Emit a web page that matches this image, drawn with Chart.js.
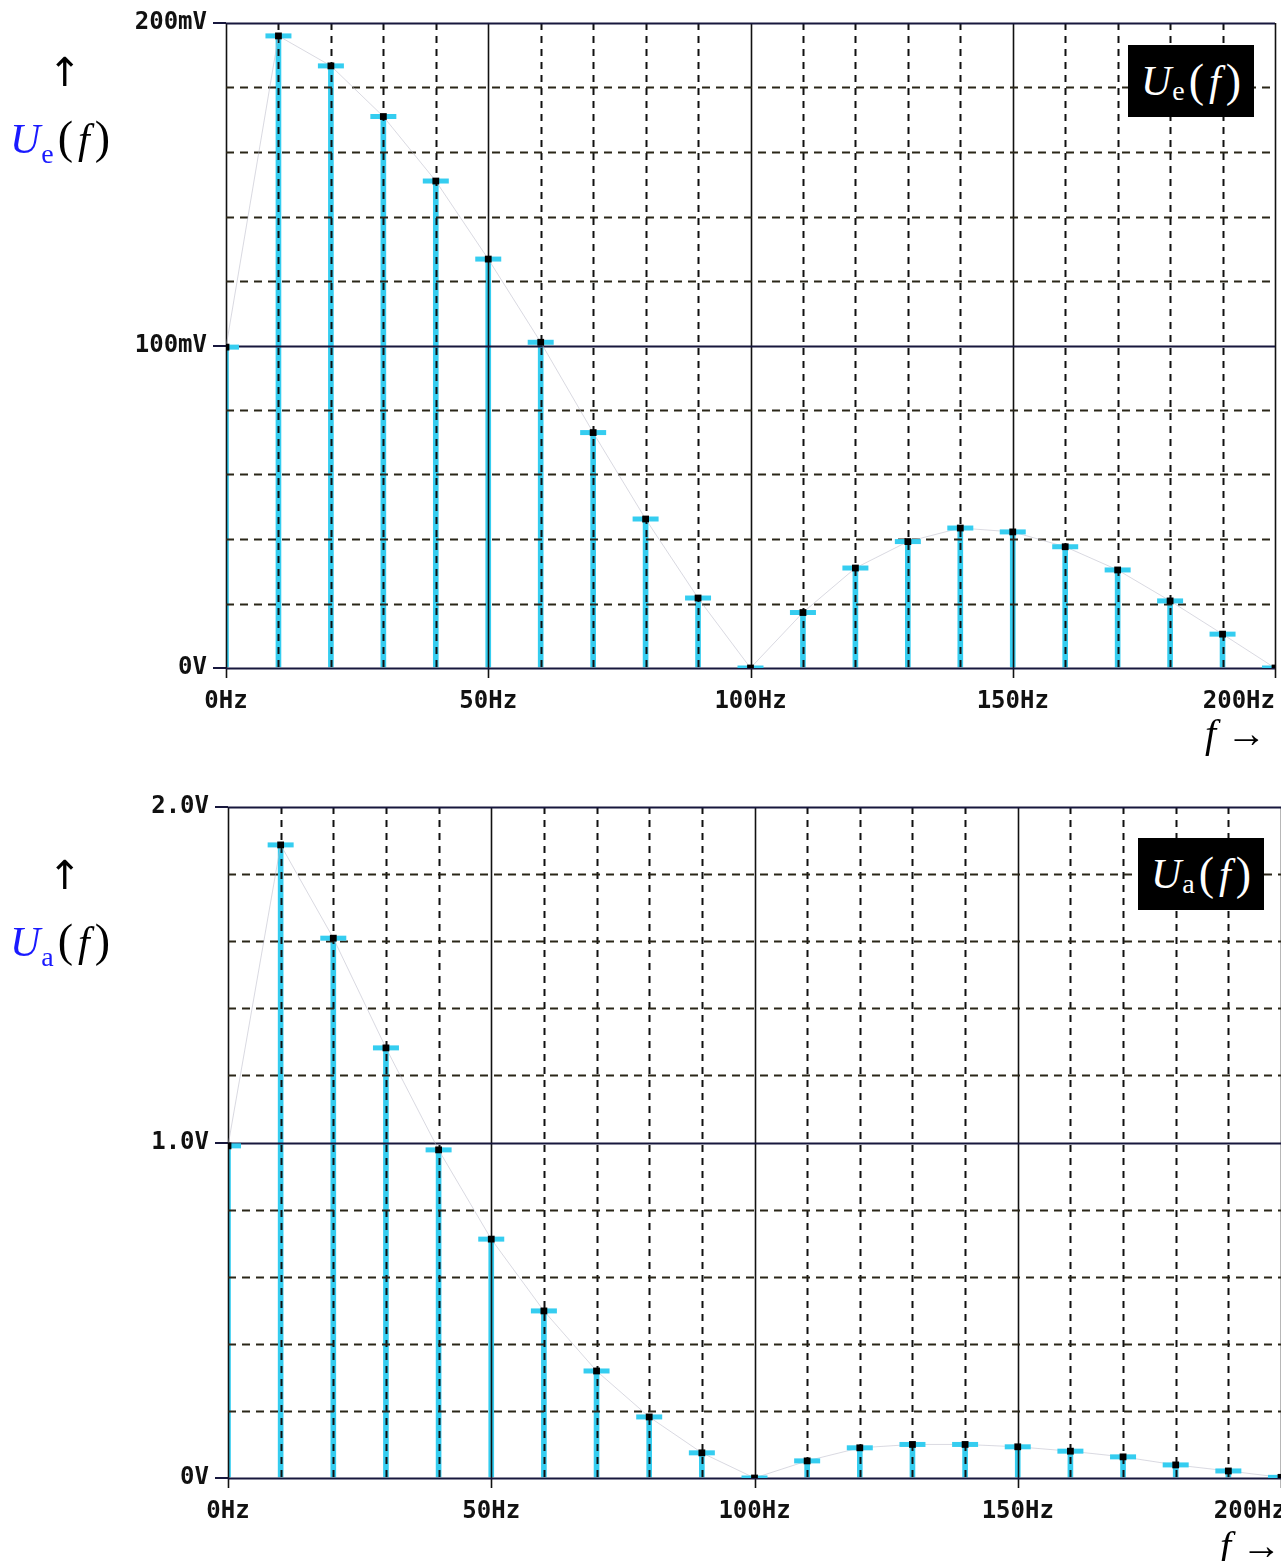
<!DOCTYPE html>
<html>
<head>
<meta charset="utf-8">
<script src="https://cdn.jsdelivr.net/npm/chart.js@4.4.1/dist/chart.umd.min.js"></script>
<style>
  body { margin: 0; background: #fff; }
  #page { position: relative; width: 1281px; height: 1561px; overflow: hidden; }
  .cv { position: absolute; left: 0; }
  .lbl { position: absolute; font-family: "Liberation Serif", "DejaVu Serif", serif; font-size: 42px; line-height: 1; white-space: nowrap; color: #000; }
  .lbl .u { color: #1a1aff; font-style: italic; }
  .lbl .s { color: #1a1aff; font-size: 28px; position: relative; top: 10px; margin-left: 1px; margin-right: 4px; }
  .lbl .p { font-size: 46px; }
  .lbl .f { font-style: italic; margin: 0 5px; }
  .arrow { position: absolute; font-family: "DejaVu Sans", sans-serif; font-size: 40px; line-height: 1; color: #000; }
  .box { position: absolute; background: #000; color: #fff; font-family: "Liberation Serif", serif; font-size: 42px; line-height: 1;
         display: flex; align-items: center; justify-content: center; }
  .box .s { font-size: 28px; position: relative; top: 10px; margin-left: 1px; margin-right: 4px; }
  .box .p { font-size: 46px; }
  .box .f { font-style: italic; margin: 0 5px; }
</style>
</head>
<body>
<div id="page">
  <canvas id="chartTop" class="cv" style="top:0" width="1281" height="770"></canvas>
  <canvas id="chartBottom" class="cv" style="top:780px" width="1281" height="781"></canvas>

  <div class="arrow" style="left:48px;top:52px">&uarr;</div>
  <div class="lbl" style="left:10px;top:115px"><span class="u">U</span><span class="s">e</span><span class="p">(</span><span class="f">f</span><span class="p">)</span></div>
  <div class="box" style="left:1128px;top:45px;width:126px;height:72px"><i>U</i><span class="s">e</span><span class="p">(</span><span class="f">f</span><span class="p">)</span></div>
  <div class="lbl" style="left:1205px;top:714px;font-size:40px"><i>f</i> &rarr;</div>

  <div class="arrow" style="left:48px;top:855px">&uarr;</div>
  <div class="lbl" style="left:10px;top:918px"><span class="u">U</span><span class="s">a</span><span class="p">(</span><span class="f">f</span><span class="p">)</span></div>
  <div class="box" style="left:1138px;top:838px;width:126px;height:72px"><i>U</i><span class="s">a</span><span class="p">(</span><span class="f">f</span><span class="p">)</span></div>
  <div class="lbl" style="left:1220px;top:1526px;font-size:40px"><i>f</i> &rarr;</div>
</div>

<script>
// fréquences des raies (Hz)
const FREQ = [0, 10, 20, 30, 40, 50, 60, 70, 80, 90, 100, 110, 120, 130, 140, 150, 160, 170, 180, 190, 200];
// spectre d'entrée Ue(f) en mV
const UE_MV = [99.5, 196, 186.7, 171, 151, 126.8, 101, 73, 46.2, 21.7, 0, 17.2, 31, 39.2, 43.4, 42.2, 37.6, 30.4, 20.8, 10.5, 0];
// spectre de sortie Ua(f) en V
const UA_V = [0.99, 1.887, 1.609, 1.282, 0.978, 0.712, 0.498, 0.319, 0.182, 0.075, 0, 0.051, 0.090, 0.100, 0.100, 0.093, 0.080, 0.063, 0.039, 0.021, 0.002];
// graduations
const X_TICKS = [0, 50, 100, 150, 200];
const TOP_Y_TICKS = [0, 100, 200];
const BOTTOM_Y_TICKS = [0, 1, 2];

const CYAN = '#35cdf0';
const MONO = 'bold 24px "DejaVu Sans Mono", "Liberation Mono", monospace';

// grille façon oscilloscope : pointillés tous les 10 Hz, traits pleins tous les 50 Hz
const scopeGrid = {
    id: 'scopeGrid',
    afterDatasetDraw(chart, args, opts) {
        if (args.index !== 0) return;
        const { ctx, chartArea: a } = chart;
        const xs = chart.scales.x, ys = chart.scales.y;
        ctx.save();
        for (let f = 0; f <= 200; f += 10) {
            const px = Math.round(xs.getPixelForValue(f)) + 0.5;
            const major = f % 50 === 0;
            ctx.beginPath();
            ctx.setLineDash(major ? [] : [7, 6]);
            ctx.lineWidth = major ? 1.6 : 2;
            ctx.strokeStyle = '#111';
            ctx.moveTo(px, a.top);
            ctx.lineTo(px, major ? a.bottom + 10 : a.bottom);
            ctx.stroke();
        }
        for (let i = 0; i <= 10; i++) {
            const v = i * opts.yStep;
            const py = Math.round(ys.getPixelForValue(v)) + 0.5;
            const major = i % 5 === 0;
            ctx.beginPath();
            ctx.setLineDash(major ? [] : [8, 6]);
            ctx.lineWidth = 2;
            ctx.strokeStyle = major ? '#17173d' : '#2a2618';
            ctx.moveTo(a.left, py);
            ctx.lineTo(a.right, py);
            ctx.stroke();
        }
        ctx.restore();
    },
    afterDraw(chart, args, opts) {
        const { ctx, chartArea: a } = chart;
        const xs = chart.scales.x;
        ctx.save();
        ctx.font = MONO;
        ctx.fillStyle = '#111';
        ctx.textBaseline = 'alphabetic';
        X_TICKS.forEach((f, i) => {
            const px = xs.getPixelForValue(f);
            const last = i === X_TICKS.length - 1;
            ctx.textAlign = last ? 'right' : 'center';
            ctx.fillText(f + 'Hz', last ? px + opts.lastShift : px, a.bottom + 40);
        });
        ctx.restore();
    }
};

function makeChart(id, values, yMax, yTicks, fmt, geom) {
    const pts = FREQ.map((f, i) => ({ x: f, y: values[i] }));
    return new Chart(document.getElementById(id), {
        type: 'line',
        data: {
            datasets: [
                { type: 'bar', data: pts, backgroundColor: CYAN, barThickness: 5, order: 4 },
                { type: 'line', data: pts, borderColor: 'rgba(185,185,200,0.55)', borderWidth: 1,
                  pointRadius: 0, order: 3 },
                { type: 'line', data: pts, showLine: false, pointStyle: 'line', pointRadius: 13,
                  pointBorderWidth: 5, pointBorderColor: CYAN, order: 2 },
                { type: 'line', data: pts, showLine: false, pointStyle: 'rect', pointRadius: 4.8,
                  pointBackgroundColor: '#000', pointBorderWidth: 0, order: 1 }
            ]
        },
        options: {
            responsive: false,
            animation: false,
            layout: { autoPadding: false, padding: { top: geom.top, right: geom.right, left: 0, bottom: 0 } },
            plugins: {
                legend: { display: false },
                tooltip: { enabled: false },
                scopeGrid: { yStep: yMax / 10, lastShift: geom.lastShift }
            },
            scales: {
                x: {
                    type: 'linear', min: 0, max: 200, offset: false,
                    ticks: { display: false },
                    grid: { display: false, drawTicks: false, offset: false },
                    border: { display: false },
                    afterFit: s => { s.height = geom.xHeight; }
                },
                y: {
                    min: 0, max: yMax,
                    afterBuildTicks: s => { s.ticks = yTicks.map(v => ({ value: v })); },
                    ticks: { font: { family: '"DejaVu Sans Mono", monospace', size: 24, weight: 'bold' },
                             color: '#111', padding: 6, callback: fmt },
                    grid: { display: true, drawOnChartArea: false, drawTicks: true, tickLength: 13,
                            color: '#17173d', lineWidth: 2 },
                    border: { display: false },
                    afterFit: s => { s.width = geom.yWidth; }
                }
            }
        },
        plugins: [scopeGrid]
    });
}

makeChart('chartTop', UE_MV, 200, TOP_Y_TICKS,
    v => v === 0 ? '0V' : v + 'mV',
    { top: 23, right: 6, xHeight: 102, yWidth: 226, lastShift: 0 });

makeChart('chartBottom', UA_V, 2, BOTTOM_Y_TICKS,
    v => v === 0 ? '0V' : v.toFixed(1) + 'V',
    { top: 27, right: 0, xHeight: 83, yWidth: 228, lastShift: 5 });
</script>
</body>
</html>
